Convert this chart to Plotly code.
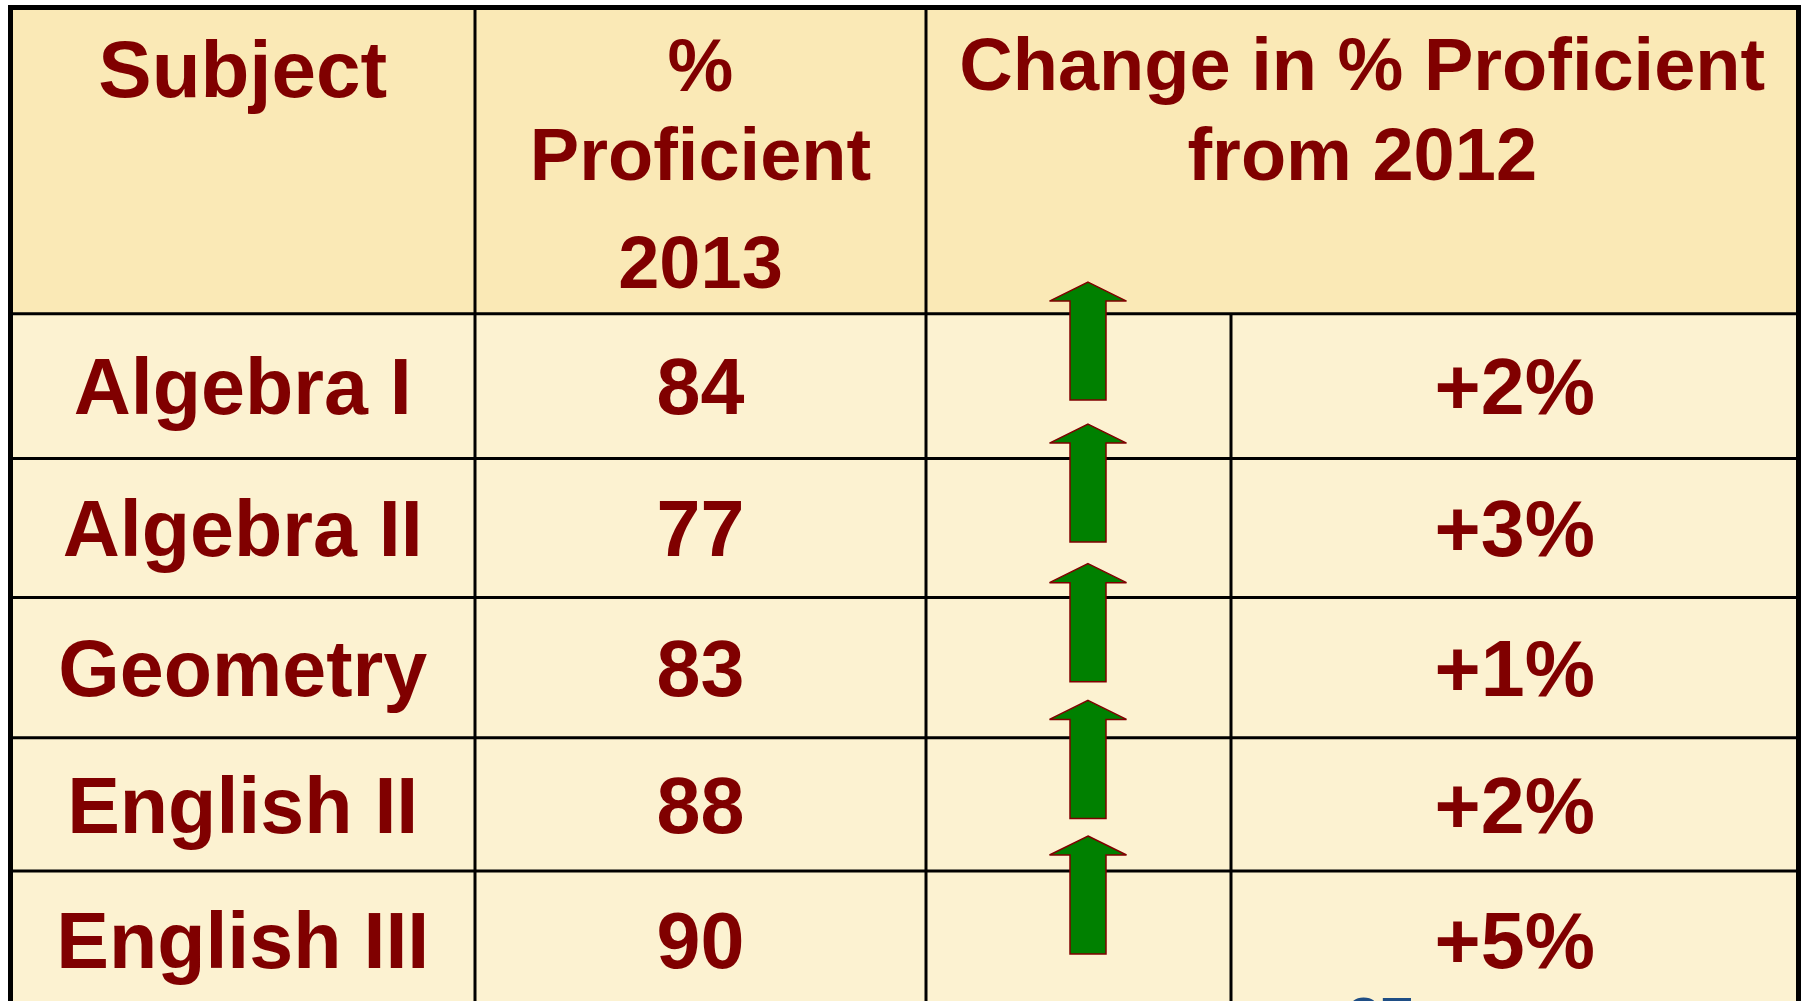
import plotly.graph_objects as go

# ---- data ----
subjects = ["Algebra I", "Algebra II", "Geometry", "English II", "English III"]
pct_2013 = [84, 77, 83, 88, 90]
change_pct = [2, 3, 1, 2, 5]
header_subject = ["Subject"]
header_pct = ["%", "Proficient", "2013"]
header_change = ["Change in % Proficient", "from 2012"]
page_number = "27"

# ---- layout geometry (pixels) ----
W, H = 1802, 1001
col_edges = [10.5, 475, 926, 1231, 1798.5]
row_edges = [7.5, 313.7, 458.5, 597.6, 737.8, 871, 1009]
HEADER_BG = "#FAE9B6"
BODY_BG = "#FCF2D1"
TEXT = "#800000"
FONT = "Liberation Sans"
BODY_SIZE = 79
HEAD_SIZE = 74
DY = 7  # vertical text adjustment

fig = go.Figure()
shapes = []
# backgrounds
shapes.append(dict(type="rect", xref="x", yref="y", x0=col_edges[0], x1=col_edges[-1],
                   y0=row_edges[0], y1=row_edges[1], fillcolor=HEADER_BG, line_width=0, layer="below"))
shapes.append(dict(type="rect", xref="x", yref="y", x0=col_edges[0], x1=col_edges[-1],
                   y0=row_edges[1], y1=row_edges[-1] + 20, fillcolor=BODY_BG, line_width=0, layer="below"))
# horizontal grid lines
for y in row_edges[1:-1]:
    shapes.append(dict(type="line", xref="x", yref="y", x0=col_edges[0], x1=col_edges[-1],
                       y0=y, y1=y, line=dict(color="black", width=3), layer="below"))
# vertical grid lines
for x in col_edges[1:3]:
    shapes.append(dict(type="line", xref="x", yref="y", x0=x, x1=x, y0=row_edges[0], y1=row_edges[-1] + 20,
                       line=dict(color="black", width=3), layer="below"))
shapes.append(dict(type="line", xref="x", yref="y", x0=col_edges[3], x1=col_edges[3],
                   y0=row_edges[1], y1=row_edges[-1] + 20, line=dict(color="black", width=3), layer="below"))
# outer border
shapes.append(dict(type="rect", xref="x", yref="y", x0=col_edges[0], x1=col_edges[-1],
                   y0=row_edges[0], y1=row_edges[-1] + 40, line=dict(color="black", width=5),
                   fillcolor="rgba(0,0,0,0)", layer="below"))

row_centers = [(row_edges[i + 1] + row_edges[i + 2]) / 2 for i in range(len(subjects))]

# arrows (one per row, increase)
ax = 1088
head_hw, shaft_hw, head_h, length = 38.5, 18, 19, 118
for rc, ch in zip(row_centers, change_pct):
    if ch <= 0:
        continue
    top = rc - 104
    bot = top + length
    path = (f"M {ax},{top} L {ax + head_hw},{top + head_h} L {ax + shaft_hw},{top + head_h} "
            f"L {ax + shaft_hw},{bot} L {ax - shaft_hw},{bot} L {ax - shaft_hw},{top + head_h} "
            f"L {ax - head_hw},{top + head_h} Z")
    shapes.append(dict(type="path", xref="x", yref="y", path=path, fillcolor="#008000",
                       line=dict(color="#800000", width=1.5), layer="above"))

def text_trace(xs, ys, texts, size, color=TEXT):
    return go.Scatter(x=xs, y=[y + DY for y in ys], text=texts, mode="text", textposition="middle center",
                      textfont=dict(family=FONT, size=size, color=color, weight="bold"),
                      hoverinfo="skip", showlegend=False, cliponaxis=False)

cx = [(col_edges[0] + col_edges[1]) / 2, (col_edges[1] + col_edges[2]) / 2,
      (col_edges[2] + col_edges[4]) / 2, (col_edges[3] + col_edges[4]) / 2]

# header
fig.add_trace(text_trace([cx[0]], [69.5], header_subject, 80))
fig.add_trace(text_trace([cx[1]] * 3, [65.8, 154.1, 262.1], header_pct, HEAD_SIZE))
fig.add_trace(text_trace([cx[2]] * 2, [64.1, 154.1], header_change, HEAD_SIZE))

# body
ys = [rc + 1.6 for rc in row_centers]
fig.add_trace(text_trace([cx[0]] * len(subjects), ys, subjects, BODY_SIZE))
fig.add_trace(text_trace([cx[1]] * len(subjects), ys, [str(v) for v in pct_2013], BODY_SIZE))
fig.add_trace(text_trace([cx[3]] * len(subjects), ys, [f"+{v}%" for v in change_pct], BODY_SIZE))

# partially visible page number at bottom edge
fig.add_annotation(x=1380, y=983, xref="x", yref="y", text=page_number, showarrow=False,
                   xanchor="center", yanchor="top",
                   font=dict(family=FONT, size=60, color="#1F4E85", weight="bold"))

fig.update_layout(
    width=W, height=H, margin=dict(l=0, r=0, t=0, b=0),
    paper_bgcolor="white", plot_bgcolor="white",
    xaxis=dict(range=[0, W], visible=False, fixedrange=True),
    yaxis=dict(range=[H, 0], visible=False, fixedrange=True),
    shapes=shapes, showlegend=False,
)

fig.write_html("out.html", config={"displayModeBar": False},
               post_script="document.body.style.margin='0';document.body.style.overflow='hidden';")
